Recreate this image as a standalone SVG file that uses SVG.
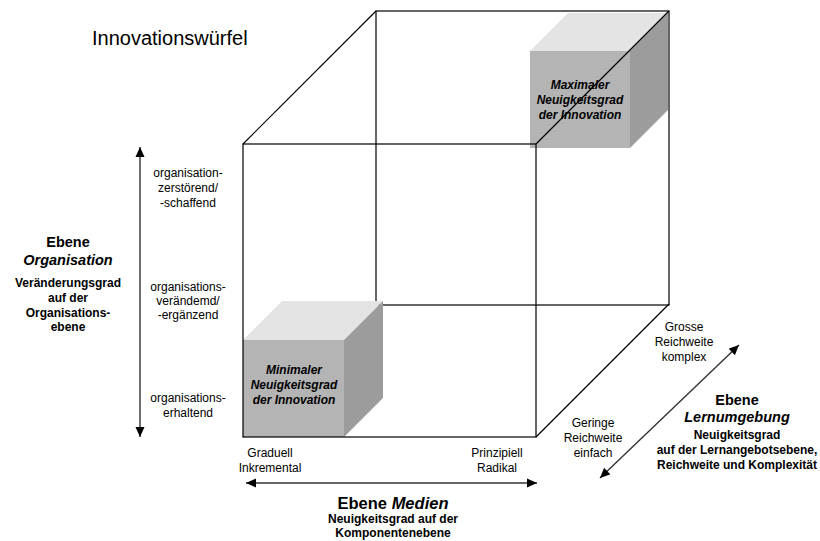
<svg xmlns="http://www.w3.org/2000/svg" width="820" height="541" viewBox="0 0 820 541">
<style>
text{font-family:"Liberation Sans",Arial,sans-serif;fill:#000;}
.n{font-size:12px;text-anchor:middle;}
.b{font-size:12px;font-weight:bold;text-anchor:middle;}
.h{font-size:14.5px;font-weight:bold;text-anchor:middle;}
.bi{font-style:italic;}
.edge{fill:none;stroke:#000;stroke-width:1.2;}
.arr{fill:none;stroke:#333;stroke-width:1.4;marker-start:url(#ah);marker-end:url(#ah);}
.front{fill:#b4b4b4;}
.top{fill:#e4e4e4;}
.side{fill:#9c9c9c;}
</style>
<defs>
<marker id="ah" markerUnits="userSpaceOnUse" markerWidth="12" markerHeight="10" refX="10" refY="5" orient="auto-start-reverse">
<path d="M0,0.5 L10,5 L0,9.5 z" fill="#000"/>
</marker>
</defs>
<rect width="820" height="541" fill="#fff"/>
<text x="92" y="45" style="font-size:20px">Innovationswürfel</text>
<g id="cube-back">
<rect class="edge" x="376" y="11" width="293" height="294"/>
<line class="edge" x1="243" y1="437" x2="376" y2="304"/>
</g>
<g id="min-cube">
<rect class="front" x="243" y="340" width="101" height="97"/>
<polygon class="top" points="243,340 282,301 383,301 344,340"/>
<polygon class="side" points="344,340 383,301 383,398 344,437"/>
<text class="b bi" x="294" y="374">Minimaler</text>
<text class="b bi" x="294" y="389">Neuigkeitsgrad</text>
<text class="b bi" x="294" y="404">der Innovation</text>
</g>
<g id="max-cube">
<rect class="front" x="530" y="51" width="100" height="97"/>
<polygon class="top" points="530,51 568,13 668,13 630,51"/>
<polygon class="side" points="630,51 668,13 668,110 630,148"/>
<text class="b bi" x="580" y="89">Maximaler</text>
<text class="b bi" x="580" y="104">Neuigkeitsgrad</text>
<text class="b bi" x="580" y="119">der Innovation</text>
</g>
<g id="cube-front">
<rect class="edge" x="243" y="144" width="293" height="293"/>
<line class="edge" x1="243" y1="144" x2="376" y2="11"/>
<line class="edge" x1="536" y1="144" x2="669" y2="11"/>
<line class="edge" x1="536" y1="437" x2="669" y2="304"/>
</g>
<g id="connectors">
<line class="arr" x1="140" y1="147" x2="140" y2="437"/>
<line class="arr" x1="246" y1="483" x2="537" y2="483"/>
<line class="arr" x1="600" y1="478" x2="739" y2="345"/>
</g>
<g id="axis-organisation">
<text class="n" x="188" y="177">organisation-</text>
<text class="n" x="188" y="192">zerstörend/</text>
<text class="n" x="188" y="207">-schaffend</text>
<text class="n" x="188" y="291">organisations-</text>
<text class="n" x="188" y="305">verändemd/</text>
<text class="n" x="188" y="319">-ergänzend</text>
<text class="n" x="188" y="402">organisations-</text>
<text class="n" x="188" y="417">erhaltend</text>
<text class="h" x="68" y="247">Ebene</text>
<text class="h bi" x="68" y="265">Organisation</text>
<text class="b" x="68" y="287">Veränderungsgrad</text>
<text class="b" x="68" y="302">auf der</text>
<text class="b" x="68" y="317">Organisations-</text>
<text class="b" x="68" y="331">ebene</text>
</g>
<g id="axis-medien">
<text class="n" x="270" y="457">Graduell</text>
<text class="n" x="270" y="472">Inkremental</text>
<text class="n" x="497" y="457">Prinzipiell</text>
<text class="n" x="497" y="472">Radikal</text>
<text class="h" x="393" y="509" style="font-size:16.5px">Ebene <tspan class="bi">Medien</tspan></text>
<text class="b" x="393" y="523">Neuigkeitsgrad auf der</text>
<text class="b" x="393" y="537">Komponentenebene</text>
</g>
<g id="axis-lernumgebung">
<text class="n" x="684" y="331">Grosse</text>
<text class="n" x="684" y="346">Reichweite</text>
<text class="n" x="684" y="361">komplex</text>
<text class="n" x="593" y="427">Geringe</text>
<text class="n" x="593" y="442">Reichweite</text>
<text class="n" x="593" y="457">einfach</text>
<text class="h" x="737" y="405">Ebene</text>
<text class="h bi" x="737" y="422">Lernumgebung</text>
<text class="b" x="737" y="439">Neuigkeitsgrad</text>
<text class="b" x="737" y="454">auf der Lernangebotsebene,</text>
<text class="b" x="737" y="469">Reichweite und Komplexität</text>
</g>
</svg>
